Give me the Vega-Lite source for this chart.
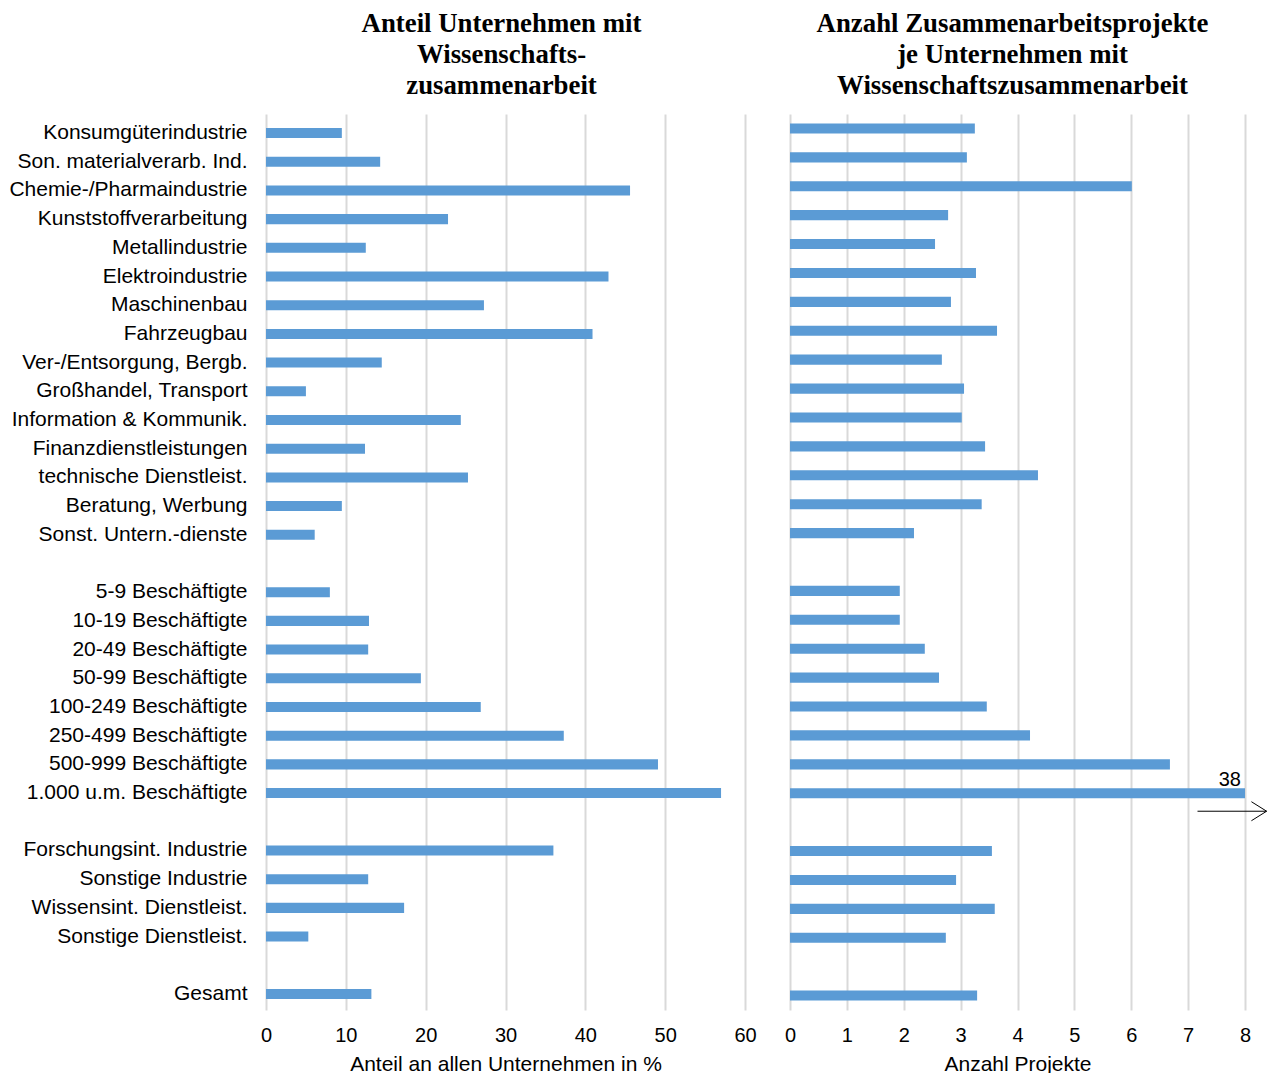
{
  "$schema": "https://vega.github.io/schema/vega-lite/v6.json",
  "background": "white",
  "padding": {"left": 8, "top": 11, "right": 0, "bottom": 0},
  "spacing": 27,
  "config": {
    "view": {"stroke": null},
    "font": "Liberation Sans",
    "title": {"font": "Liberation Serif", "fontWeight": "bold", "fontSize": 26.8, "lineHeight": 31, "color": "black", "anchor": "middle"},
    "axis": {"labelFont": "Liberation Sans", "titleFont": "Liberation Sans", "labelColor": "black", "titleColor": "black", "gridColor": "#d9d9d9", "gridWidth": 2, "domain": false, "ticks": false, "labelFlush": false}
  },
  "data": {"values": [
    {"cat": "Konsumgüterindustrie", "anteil": 9.5, "projekte": 3.25},
    {"cat": "Son. materialverarb. Ind.", "anteil": 14.3, "projekte": 3.11},
    {"cat": "Chemie-/Pharmaindustrie", "anteil": 45.6, "projekte": 6.01},
    {"cat": "Kunststoffverarbeitung", "anteil": 22.8, "projekte": 2.78},
    {"cat": "Metallindustrie", "anteil": 12.5, "projekte": 2.55},
    {"cat": "Elektroindustrie", "anteil": 42.9, "projekte": 3.27},
    {"cat": "Maschinenbau", "anteil": 27.3, "projekte": 2.83},
    {"cat": "Fahrzeugbau", "anteil": 40.9, "projekte": 3.64},
    {"cat": "Ver-/Entsorgung, Bergb.", "anteil": 14.5, "projekte": 2.67},
    {"cat": "Großhandel, Transport", "anteil": 5.0, "projekte": 3.06},
    {"cat": "Information & Kommunik.", "anteil": 24.4, "projekte": 3.02},
    {"cat": "Finanzdienstleistungen", "anteil": 12.4, "projekte": 3.43},
    {"cat": "technische Dienstleist.", "anteil": 25.3, "projekte": 4.36},
    {"cat": "Beratung, Werbung", "anteil": 9.5, "projekte": 3.37},
    {"cat": "Sonst. Untern.-dienste", "anteil": 6.1, "projekte": 2.18},
    {"cat": "5-9 Beschäftigte", "anteil": 8.0, "projekte": 1.93},
    {"cat": "10-19 Beschäftigte", "anteil": 12.9, "projekte": 1.93},
    {"cat": "20-49 Beschäftigte", "anteil": 12.8, "projekte": 2.37},
    {"cat": "50-99 Beschäftigte", "anteil": 19.4, "projekte": 2.62},
    {"cat": "100-249 Beschäftigte", "anteil": 26.9, "projekte": 3.46},
    {"cat": "250-499 Beschäftigte", "anteil": 37.3, "projekte": 4.22},
    {"cat": "500-999 Beschäftigte", "anteil": 49.1, "projekte": 6.68},
    {"cat": "1.000 u.m. Beschäftigte", "anteil": 57.0, "projekte": 38},
    {"cat": "Forschungsint. Industrie", "anteil": 36.0, "projekte": 3.55},
    {"cat": "Sonstige Industrie", "anteil": 12.8, "projekte": 2.92},
    {"cat": "Wissensint. Dienstleist.", "anteil": 17.3, "projekte": 3.60},
    {"cat": "Sonstige Dienstleist.", "anteil": 5.3, "projekte": 2.74},
    {"cat": "Gesamt", "anteil": 13.2, "projekte": 3.29}
  ]},
  "hconcat": [
    {
      "width": 479,
      "height": 896,
      "title": {"text": ["Anteil Unternehmen mit", "Wissenschafts-", "zusammenarbeit"], "offset": 14, "dx": -4},
      "mark": {"type": "bar", "color": "#5b9bd5"},
      "encoding": {
        "y": {
          "field": "cat", "type": "nominal", "sort": null,
          "scale": {"domain": ["Konsumgüterindustrie", "Son. materialverarb. Ind.", "Chemie-/Pharmaindustrie", "Kunststoffverarbeitung", "Metallindustrie", "Elektroindustrie", "Maschinenbau", "Fahrzeugbau", "Ver-/Entsorgung, Bergb.", "Großhandel, Transport", "Information & Kommunik.", "Finanzdienstleistungen", "technische Dienstleist.", "Beratung, Werbung", "Sonst. Untern.-dienste", "_1", "5-9 Beschäftigte", "10-19 Beschäftigte", "20-49 Beschäftigte", "50-99 Beschäftigte", "100-249 Beschäftigte", "250-499 Beschäftigte", "500-999 Beschäftigte", "1.000 u.m. Beschäftigte", "_2", "Forschungsint. Industrie", "Sonstige Industrie", "Wissensint. Dienstleist.", "Sonstige Dienstleist.", "_3", "Gesamt"], "paddingInner": 0.65, "paddingOuter": 0.435, "align": 0.56},
          "axis": {"title": null, "labelFontSize": 21, "labelPadding": 19, "labelLimit": 400, "grid": false, "labelExpr": "indexof(datum.value, '_') == 0 ? '' : datum.value"}
        },
        "x": {
          "field": "anteil", "type": "quantitative",
          "scale": {"domain": [0, 60], "nice": false},
          "axis": {"title": "Anteil an allen Unternehmen in %", "values": [0, 10, 20, 30, 40, 50, 60], "labelFontSize": 20, "labelPadding": 15, "titleFontSize": 21, "titleFontWeight": "normal", "titlePadding": 8}
        }
      }
    },
    {
      "width": 455,
      "height": 896,
      "title": {"text": ["Anzahl Zusammenarbeitsprojekte", "je Unternehmen mit", "Wissenschaftszusammenarbeit"], "offset": 14, "dx": -5},
      "encoding": {
        "y": {
          "field": "cat", "type": "nominal", "sort": null,
          "scale": {"domain": ["Konsumgüterindustrie", "Son. materialverarb. Ind.", "Chemie-/Pharmaindustrie", "Kunststoffverarbeitung", "Metallindustrie", "Elektroindustrie", "Maschinenbau", "Fahrzeugbau", "Ver-/Entsorgung, Bergb.", "Großhandel, Transport", "Information & Kommunik.", "Finanzdienstleistungen", "technische Dienstleist.", "Beratung, Werbung", "Sonst. Untern.-dienste", "_1", "5-9 Beschäftigte", "10-19 Beschäftigte", "20-49 Beschäftigte", "50-99 Beschäftigte", "100-249 Beschäftigte", "250-499 Beschäftigte", "500-999 Beschäftigte", "1.000 u.m. Beschäftigte", "_2", "Forschungsint. Industrie", "Sonstige Industrie", "Wissensint. Dienstleist.", "Sonstige Dienstleist.", "_3", "Gesamt"], "paddingInner": 0.65, "paddingOuter": 0.325},
          "axis": null
        }
      },
      "layer": [
        {
          "mark": {"type": "bar", "color": "#5b9bd5", "clip": true},
          "encoding": {
            "x": {
              "field": "projekte", "type": "quantitative",
              "scale": {"domain": [0, 8], "nice": false},
              "axis": {"title": "Anzahl Projekte", "values": [0, 1, 2, 3, 4, 5, 6, 7, 8], "format": "d", "labelFontSize": 20, "labelPadding": 15, "titleFontSize": 21, "titleFontWeight": "normal", "titlePadding": 8}
            }
          }
        },
        {
          "transform": [{"filter": "datum.projekte > 8"}],
          "mark": {"type": "text", "align": "right", "baseline": "alphabetic", "dx": -4, "dy": -7, "fontSize": 20, "color": "black", "font": "Liberation Sans"},
          "encoding": {
            "x": {"datum": 8, "type": "quantitative"},
            "text": {"field": "projekte", "type": "quantitative"}
          }
        },
        {
          "transform": [{"filter": "datum.projekte > 8"}],
          "mark": {"type": "rule", "color": "black", "strokeWidth": 1, "yOffset": 18},
          "encoding": {
            "x": {"datum": 7.165, "type": "quantitative"},
            "x2": {"datum": 8.38}
          }
        },
        {
          "transform": [{"filter": "datum.projekte > 8"}],
          "mark": {"type": "point", "shape": "M-1.6,-1L0,0L-1.6,1", "filled": false, "stroke": "black", "strokeWidth": 1, "size": 361, "yOffset": 18, "opacity": 1},
          "encoding": {
            "x": {"datum": 8.38, "type": "quantitative"}
          }
        }
      ]
    }
  ]
}
